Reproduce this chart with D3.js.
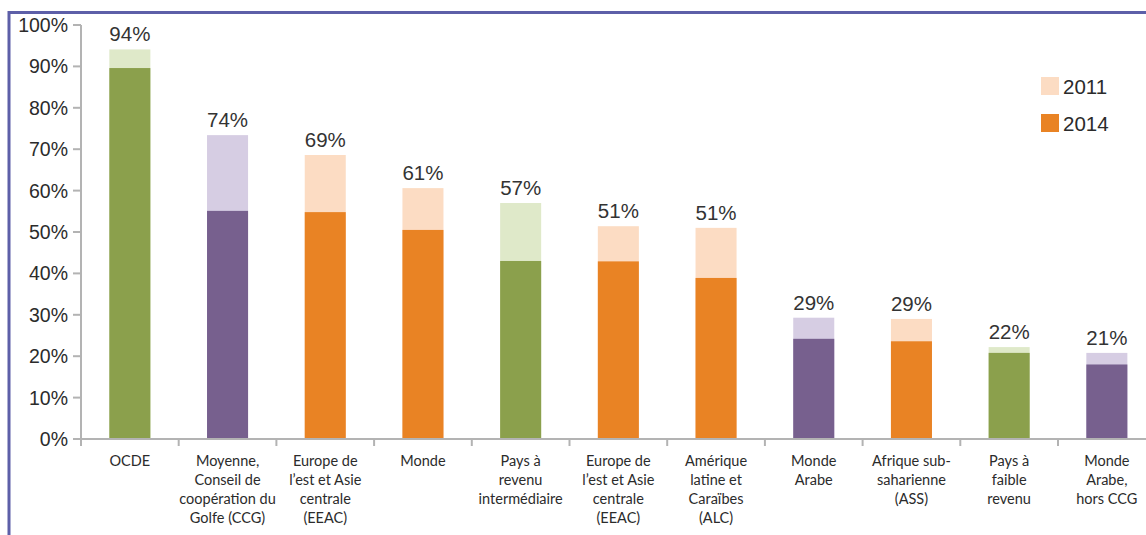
<!DOCTYPE html>
<html><head><meta charset="utf-8">
<script src="https://cdn.jsdelivr.net/npm/d3@7"></script>
<style>body{margin:0;background:#fff}svg{display:block}</style>
</head><body>
<svg id="c" width="1146" height="535"></svg>
<script>
const categories = [
  ["OCDE"],
  ["Moyenne,","Conseil de","coopération du","Golfe (CCG)"],
  ["Europe de","l’est et Asie","centrale","(EEAC)"],
  ["Monde"],
  ["Pays à","revenu","intermédiaire"],
  ["Europe de","l’est et Asie","centrale","(EEAC)"],
  ["Amérique","latine et","Caraïbes","(ALC)"],
  ["Monde","Arabe"],
  ["Afrique sub-","saharienne","(ASS)"],
  ["Pays à","faible","revenu"],
  ["Monde","Arabe,","hors CCG"]
];
const values2011 = [94.1, 73.4, 68.6, 60.6, 57.0, 51.4, 51.0, 29.3, 29.0, 22.2, 20.8];
const values2014 = [89.6, 55.1, 54.8, 50.5, 43.0, 42.9, 38.9, 24.2, 23.6, 20.8, 18.0];
const valueLabels = ["94%","74%","69%","61%","57%","51%","51%","29%","29%","22%","21%"];
const groups = ["green","purple","orange","orange","green","orange","orange","purple","orange","green","purple"];
const yTicks = [0,10,20,30,40,50,60,70,80,90,100];
const legendItems = ["2011","2014"];

const palette = {
  green:  {light:"#dfe9c9", dark:"#8ba04c"},
  purple: {light:"#d6cde3", dark:"#77608e"},
  orange: {light:"#fcdcc3", dark:"#e98324"}
};

const svg = d3.select("#c");
const idx = categories.map((d,i)=>i);
const x = d3.scaleBand().domain(idx).range([81, 1155.7]).paddingInner(0.58).paddingOuter(0.29);
const y = d3.scaleLinear().domain([0,100]).range([439, 25]);
const step = x.step();

// frame
svg.append("line").attr("x1",9).attr("x2",1146).attr("y1",12.5).attr("y2",12.5)
  .attr("stroke","#5d5fa8").attr("stroke-width",3);
svg.append("line").attr("x1",9).attr("x2",9).attr("y1",11).attr("y2",535)
  .attr("stroke","#5d5fa8").attr("stroke-width",3);

// bars
const g = svg.append("g");
g.selectAll("rect.b11").data(idx).join("rect").attr("class","b11")
  .attr("x",i=>x(i)).attr("width",x.bandwidth())
  .attr("y",i=>y(values2011[i])).attr("height",i=>y(0)-y(values2011[i]))
  .attr("fill",i=>palette[groups[i]].light);
g.selectAll("rect.b14").data(idx).join("rect").attr("class","b14")
  .attr("x",i=>x(i)).attr("width",x.bandwidth())
  .attr("y",i=>y(values2014[i])).attr("height",i=>y(0)-y(values2014[i]))
  .attr("fill",i=>palette[groups[i]].dark);

// value labels
g.selectAll("text.vl").data(idx).join("text").attr("class","vl")
  .attr("x",i=>x(i)+x.bandwidth()/2).attr("y",i=>y(values2011[i])-8)
  .attr("text-anchor","middle").attr("font-family","Liberation Sans, Arial, sans-serif")
  .attr("font-size",20.5).attr("fill","#333").text(i=>valueLabels[i]);

// axes
const axisColor = "#b3b3b3";
svg.append("line").attr("x1",81).attr("x2",1146).attr("y1",y(0)).attr("y2",y(0))
  .attr("stroke",axisColor).attr("stroke-width",2);
svg.append("line").attr("x1",81).attr("x2",81).attr("y1",y(100)).attr("y2",y(0)+7)
  .attr("stroke",axisColor).attr("stroke-width",2);
svg.selectAll("line.yt").data(yTicks).join("line").attr("class","yt")
  .attr("x1",73).attr("x2",81).attr("y1",d=>y(d)).attr("y2",d=>y(d))
  .attr("stroke",axisColor).attr("stroke-width",2);
svg.selectAll("text.yl").data(yTicks).join("text").attr("class","yl")
  .attr("x",68).attr("y",d=>y(d)).attr("dy","0.36em").attr("text-anchor","end")
  .attr("font-family","Liberation Sans, Arial, sans-serif").attr("font-size",19.5)
  .attr("fill","#2b2b2b").text(d=>d+"%");
svg.selectAll("line.xt").data(idx.slice(1)).join("line").attr("class","xt")
  .attr("x1",i=>x(i)-x.paddingInner()*step/2).attr("x2",i=>x(i)-x.paddingInner()*step/2)
  .attr("y1",y(0)).attr("y2",y(0)+7)
  .attr("stroke",axisColor).attr("stroke-width",2);

// category labels
const cl = svg.selectAll("text.cl").data(idx).join("text").attr("class","cl")
  .attr("text-anchor","middle").attr("font-family","Lato, Noto Sans, sans-serif")
  .attr("font-size",14.5).attr("fill","#2b2b2b");
cl.each(function(i){
  const t = d3.select(this);
  categories[i].forEach((line,k)=>{
    t.append("tspan").attr("x",x(i)+x.bandwidth()/2).attr("y",466+k*19).text(line);
  });
});

// legend
const lg = svg.append("g");
legendItems.forEach((name,k)=>{
  const yy = 77 + k*37;
  lg.append("rect").attr("x",1041).attr("y",yy).attr("width",18).attr("height",18)
    .attr("fill", k===0 ? palette.orange.light : palette.orange.dark);
  lg.append("text").attr("x",1063).attr("y",yy+17).attr("font-family","Liberation Sans, Arial, sans-serif")
    .attr("font-size",20.5).attr("fill","#2b2b2b").text(name);
});
</script>
</body></html>
